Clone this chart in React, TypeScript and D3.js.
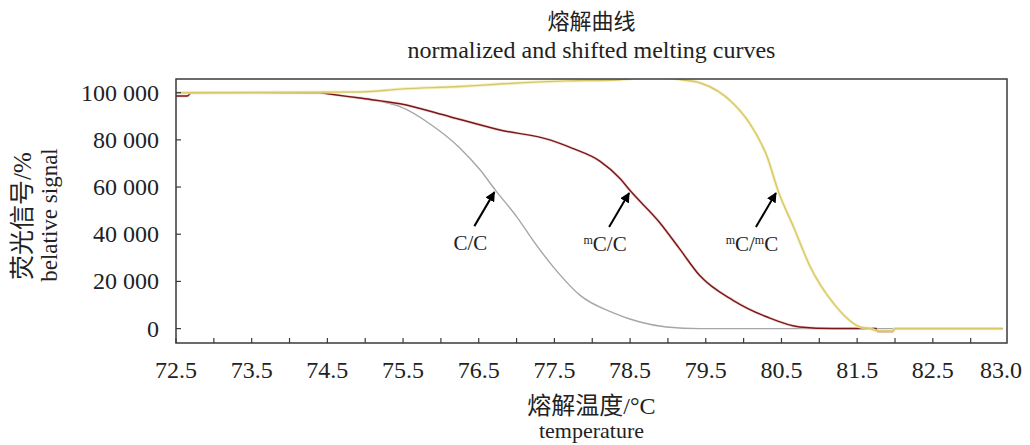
import React, { useEffect, useRef } from 'react';
import * as d3 from 'd3';

// melting curves: [temperature °C, signal]
const ccCurve: [number, number][] = [
  [72.5, 100000], [74.4, 100000], [74.53, 99400], [74.93, 97700], [75.3, 95600],
  [75.46, 94100], [75.89, 86000], [76.25, 76600], [76.52, 67200], [76.72, 58700],
  [77.0, 47500], [77.26, 35500], [77.52, 24800], [77.84, 14100], [78.27, 6800],
  [78.63, 2800], [78.98, 700], [79.42, 0], [83.42, 0]
];

const mccCurve: [number, number][] = [
  [72.5, 98600], [72.65, 98600], [72.7, 100000], [74.4, 100000], [74.53, 99400],
  [74.93, 97700], [75.46, 95300], [76.12, 89800], [76.78, 84200], [77.44, 80000],
  [77.74, 76400], [78.1, 71000], [78.37, 63500], [78.5, 58500], [78.89, 45000],
  [79.15, 34000], [79.42, 22500], [79.86, 12000], [80.31, 4900], [80.74, 700],
  [81.18, 0], [81.75, 0], [81.77, -1200], [81.97, -1200], [82.0, 0], [83.42, 0]
];

const mcmcCurve: [number, number][] = [
  [72.5, 100000], [74.93, 100300], [75.5, 101600], [76.25, 102600], [76.74, 103600],
  [77.66, 105000], [78.32, 105400], [78.8, 106800], [79.2, 105400], [79.42, 104200],
  [79.86, 95500], [80.08, 87000], [80.31, 72900], [80.46, 58000], [80.66, 43100],
  [80.88, 26200], [81.19, 10600], [81.54, 700], [81.67, 0], [81.77, -1000],
  [81.97, -1000], [82.0, 0], [83.42, 0]
];

const yTicks = [0, 20000, 40000, 60000, 80000, 100000];
const xTicks = d3.range(72.5, 83.01, 0.5);
const xTickLabels = ['72.5', '73.5', '74.5', '75.5', '76.5', '77.5', '78.5', '79.5', '80.5', '81.5', '82.5', '83.0'];

// arrow tips on the curves: [temperature, signal], label with superscripts
const annotations = [
  { tip: [76.72, 58700], sup1: '', main1: 'C/', sup2: '', main2: 'C' },
  { tip: [78.5, 58300], sup1: 'm', main1: 'C/', sup2: '', main2: 'C' },
  { tip: [80.44, 58300], sup1: 'm', main1: 'C/', sup2: 'm', main2: 'C' }
];

const serif = "'Liberation Serif', 'Times New Roman', serif";
const cjk = "'Liberation Serif', 'Noto Sans CJK SC', serif";

function App() {
  const ref = useRef<SVGSVGElement>(null);
  const width = 1030;
  const height = 445;
  const margin = { top: 79, right: 23, bottom: 102, left: 176 };

  useEffect(() => {
    drawChart();
  }, []);

  function drawChart() {
    const svg = d3.select(ref.current);
    svg.selectAll('*').remove();

    const x = d3.scaleLinear().domain([72.5, 83.48]).range([margin.left, width - margin.right]);
    const y = d3.scaleLinear().domain([-6100, 105800]).range([height - margin.bottom, margin.top]);

    svg.append('defs').append('clipPath').attr('id', 'plot-clip')
      .append('rect')
      .attr('x', margin.left).attr('y', margin.top)
      .attr('width', width - margin.left - margin.right)
      .attr('height', height - margin.top - margin.bottom);

    const line = d3.line<[number, number]>()
      .x(d => x(d[0]))
      .y(d => y(d[1]))
      .curve(d3.curveMonotoneX);

    const plot = svg.append('g').attr('clip-path', 'url(#plot-clip)');

    // gray C/C
    plot.append('path').attr('d', line(ccCurve))
      .attr('fill', 'none').attr('stroke', '#a6a6a6').attr('stroke-width', 1.4);

    // dark red mC/C with a pale halo
    plot.append('path').attr('d', line(mccCurve))
      .attr('fill', 'none').attr('stroke', '#f2c4c4').attr('stroke-width', 3).attr('opacity', 0.6);
    plot.append('path').attr('d', line(mccCurve))
      .attr('fill', 'none').attr('stroke', '#781818').attr('stroke-width', 1.5);

    // yellow mC/mC
    plot.append('path').attr('d', line(mcmcCurve))
      .attr('fill', 'none').attr('stroke', '#f3ecbd').attr('stroke-width', 3.2).attr('opacity', 0.8);
    plot.append('path').attr('d', line(mcmcCurve))
      .attr('fill', 'none').attr('stroke', '#d8c865').attr('stroke-width', 1.4);

    // frame
    svg.append('rect')
      .attr('x', margin.left).attr('y', margin.top)
      .attr('width', width - margin.left - margin.right)
      .attr('height', height - margin.top - margin.bottom)
      .attr('fill', 'none').attr('stroke', '#3a3a3a').attr('stroke-width', 1.5);

    // y ticks (inward) and labels
    const yAxis = svg.append('g');
    yTicks.forEach(t => {
      yAxis.append('line')
        .attr('x1', margin.left).attr('x2', margin.left + 5)
        .attr('y1', y(t)).attr('y2', y(t))
        .attr('stroke', '#3a3a3a').attr('stroke-width', 1.2);
      yAxis.append('text')
        .attr('x', margin.left - 17).attr('y', y(t) + 8)
        .attr('text-anchor', 'end')
        .style('font-family', serif).style('font-size', '24px').attr('fill', '#222')
        .text(d3.format(',')(t).replace(/,/g, ' '));
    });

    // x ticks (inward) and labels
    const xAxis = svg.append('g');
    xTicks.forEach(t => {
      xAxis.append('line')
        .attr('x1', x(t)).attr('x2', x(t))
        .attr('y1', height - margin.bottom).attr('y2', height - margin.bottom - 5)
        .attr('stroke', '#3a3a3a').attr('stroke-width', 1.2);
    });
    xTickLabels.forEach((label, i) => {
      const last = i === xTickLabels.length - 1;
      const px = last ? x.range()[1] - 6 : x(72.5 + i);
      xAxis.append('text')
        .attr('x', px).attr('y', height - margin.bottom + 35)
        .attr('text-anchor', 'middle')
        .style('font-family', serif).style('font-size', '24px').attr('fill', '#222')
        .text(label);
    });

    // annotations
    const marker = svg.select('defs').append('marker')
      .attr('id', 'arrow').attr('viewBox', '0 0 10 10')
      .attr('refX', 9).attr('refY', 5)
      .attr('markerWidth', 5).attr('markerHeight', 5)
      .attr('orient', 'auto');
    marker.append('path').attr('d', 'M0,0 L10,5 L0,10 Z').attr('fill', '#000');

    annotations.forEach(a => {
      const tx = x(a.tip[0]);
      const ty = y(a.tip[1]);
      svg.append('line')
        .attr('x1', tx - 21).attr('y1', ty + 36)
        .attr('x2', tx - 1).attr('y2', ty + 2)
        .attr('stroke', '#000').attr('stroke-width', 2)
        .attr('marker-end', 'url(#arrow)');
      const text = svg.append('text')
        .attr('x', tx - 25).attr('y', ty + 60)
        .attr('text-anchor', 'middle')
        .style('font-family', serif).style('font-size', '21px').attr('fill', '#222');
      if (a.sup1) text.append('tspan').style('font-size', '12px').attr('dy', -7).text(a.sup1);
      text.append('tspan').attr('dy', a.sup1 ? 7 : 0).text(a.main1);
      if (a.sup2) text.append('tspan').style('font-size', '12px').attr('dy', -7).text(a.sup2);
      text.append('tspan').attr('dy', a.sup2 ? 7 : 0).text(a.main2);
    });

    // titles
    const cx = (margin.left + width - margin.right) / 2;
    svg.append('text').attr('x', cx).attr('y', 29).attr('text-anchor', 'middle')
      .style('font-family', cjk).style('font-size', '22px').attr('fill', '#222').text('熔解曲线');
    svg.append('text').attr('x', cx).attr('y', 58).attr('text-anchor', 'middle')
      .style('font-family', serif).style('font-size', '24px').attr('fill', '#222')
      .text('normalized and shifted melting curves');

    svg.append('text').attr('x', cx).attr('y', 414).attr('text-anchor', 'middle')
      .style('font-family', cjk).style('font-size', '24px').attr('fill', '#222').text('熔解温度/°C');
    svg.append('text').attr('x', cx).attr('y', 438).attr('text-anchor', 'middle')
      .style('font-family', serif).style('font-size', '22px').attr('fill', '#222').text('temperature');

    svg.append('text').attr('transform', 'translate(31,216) rotate(-90)').attr('text-anchor', 'middle')
      .style('font-family', cjk).style('font-size', '25px').attr('fill', '#222').text('荧光信号/%');
    svg.append('text').attr('transform', 'translate(57,215) rotate(-90)').attr('text-anchor', 'middle')
      .style('font-family', serif).style('font-size', '23px').attr('fill', '#222').text('belative signal');
  }

  return (
    <svg
      ref={ref}
      width={width}
      height={height}
      style={{ position: 'absolute', left: 0, top: 0, background: '#fff' }}
    />
  );
}

export default App;
